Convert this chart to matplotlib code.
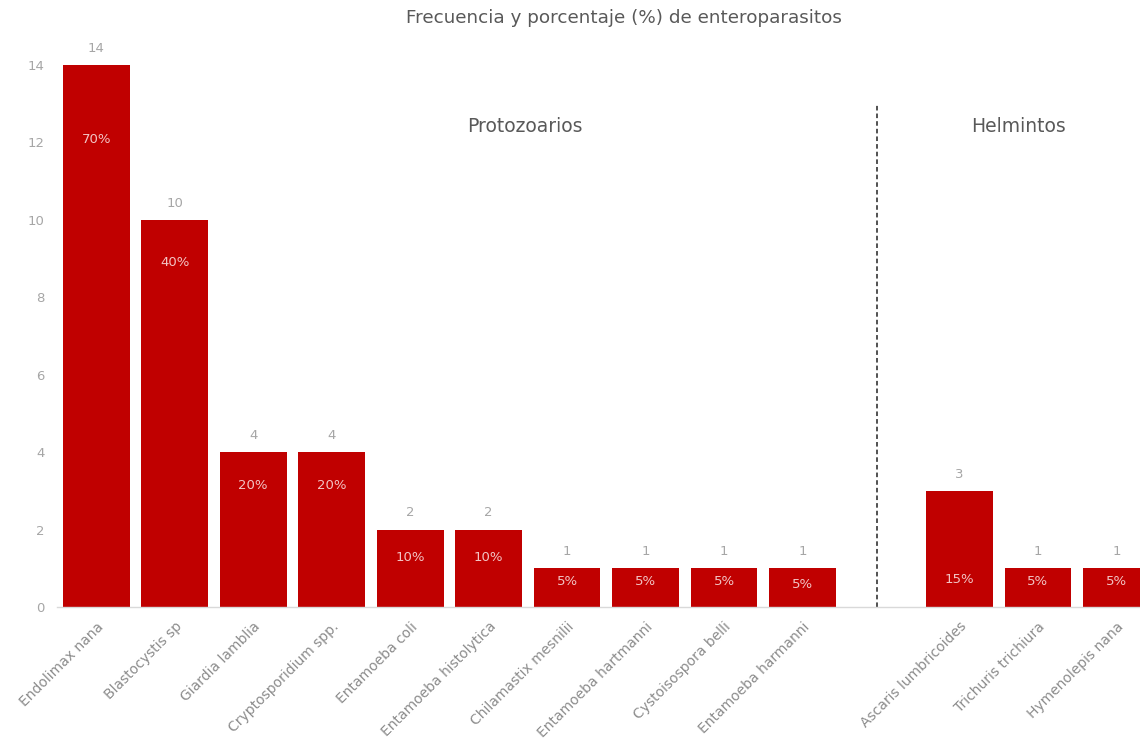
import matplotlib
matplotlib.use('Agg')
import matplotlib.pyplot as plt

# datos
protozoarios = ['Endolimax nana', 'Blastocystis sp', 'Giardia lamblia', 'Cryptosporidium spp.',
                'Entamoeba coli', 'Entamoeba histolytica', 'Chilamastix mesnilii',
                'Entamoeba hartmanni', 'Cystoisospora belli', 'Entamoeba harmanni']
protozoarios_n = [14, 10, 4, 4, 2, 2, 1, 1, 1, 1]
protozoarios_pct = ['70%', '40%', '20%', '20%', '10%', '10%', '5%', '5%', '5%', '5%']

helmintos = ['Ascaris lumbricoides', 'Trichuris trichiura', 'Hymenolepis nana']
helmintos_n = [3, 1, 1]
helmintos_pct = ['15%', '5%', '5%']

# altura (en unidades de y) donde va el % dentro de cada barra
pct_y = [12.07, 8.9, 3.15, 3.15, 1.27, 1.27, 0.67, 0.67, 0.67, 0.57, 0.7, 0.67, 0.67]

RED = '#c00000'
GRAY = '#a6a6a6'

labels = protozoarios + helmintos
values = protozoarios_n + helmintos_n
pcts = protozoarios_pct + helmintos_pct
xs = list(range(len(protozoarios))) + [len(protozoarios) + 1 + i for i in range(len(helmintos))]
sep_x = len(protozoarios) - 0.05

fig = plt.figure(figsize=(11.4, 7.44), dpi=100)
ax = fig.add_axes([57 / 1140, 1 - 607 / 744, 1 - 57 / 1140, (607 - 65) / 744])

ax.bar(xs, values, width=0.85, color=RED, zorder=2)
ax.set_xlim(-0.5, 13.3)
ax.set_ylim(0, 14)

for s in ('top', 'right', 'left'):
    ax.spines[s].set_visible(False)
ax.spines['bottom'].set_color('#d9d9d9')
ax.spines['bottom'].set_linewidth(1.0)

ax.set_yticks(range(0, 15, 2))
ax.tick_params(axis='y', length=0, colors=GRAY, labelsize=9.5, pad=9)
ax.tick_params(axis='x', length=0, colors='#8c8c8c', labelsize=10, pad=9)
ax.set_xticks(xs)
ax.set_xticklabels(labels, rotation=45, ha='right', rotation_mode='anchor')

for x, v, p, py in zip(xs, values, pcts, pct_y):
    ax.annotate(str(v), (x, v), xytext=(0, 12), textcoords='offset points',
                ha='center', va='center', color=GRAY, fontsize=9.5, clip_on=False)
    ax.text(x, py, p, ha='center', va='center', color='#f2c4c4', fontsize=9.5)

# separador protozoarios / helmintos
ax.plot([sep_x, sep_x], [0, 13], linestyle=(0, (3, 2)), color='#222222', lw=1.1)
ax.text(5.46, 12.4, 'Protozoarios', ha='center', va='center', color='#595959', fontsize=13.5)
ax.text(11.75, 12.4, 'Helmintos', ha='center', va='center', color='#595959', fontsize=13.5)

fig.text(624 / 1140, 1 - 18 / 744, 'Frecuencia y porcentaje (%) de enteroparasitos',
         ha='center', va='center', color='#595959', fontsize=13.2)

fig.savefig('out.png', dpi=100)
